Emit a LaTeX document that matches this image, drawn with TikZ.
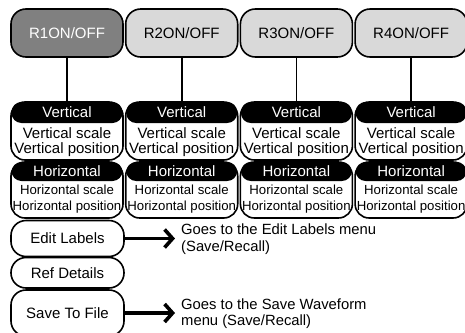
\documentclass[tikz,border=0pt]{standalone}
\usepackage{fontspec}
\setmainfont{Liberation Sans}
\usetikzlibrary{positioning}
\usetikzlibrary{arrows.meta}
\tikzset{
  onoff/.style={draw=black,line width=1.6pt,rounded corners=15pt,fill=black!15,minimum width=112pt,minimum height=48pt,inner sep=0pt,outer sep=0pt,font=\fontsize{15}{18}\selectfont},
  onoffsel/.style={onoff,fill=black!50,text=white},
  grpbox/.style={draw=black,line width=1.6pt,rounded corners=14pt,fill=white,minimum width=112pt,inner sep=0pt,outer sep=0pt},
  grphead/.style={fill=black,rounded corners=10pt,minimum width=111pt,inner sep=0pt,outer sep=0pt,text=white,font=\fontsize{15}{18}\selectfont},
  vtext/.style={inner sep=0pt,font=\fontsize{15}{18}\selectfont},
  htext/.style={inner sep=0pt,font=\fontsize{13.2}{16}\selectfont},
  btn/.style={draw=black,line width=1.6pt,rounded corners=15pt,fill=white,minimum width=113pt,inner sep=0pt,outer sep=0pt,font=\fontsize{15}{18}\selectfont},
  link/.style={draw=black,line width=1.6pt},
  goarrow/.style={draw=black,line width=3.6pt,-{Straight Barb[length=8pt,width=18pt]}},
  note/.style={align=left,inner sep=0pt,font=\fontsize{14.8}{16.5}\selectfont}
}
\begin{document}
\begin{tikzpicture}[x=1pt,y=-1pt]
\useasboundingbox (0,0) rectangle (465,332);

\node[onoffsel] (r1) at (67,33) {R1ON/OFF};
\node[onoff] (r2) at (181.7,33) {R2ON/OFF};
\node[onoff] (r3) at (296.4,33) {R3ON/OFF};
\node[onoff] (r4) at (411.1,33) {R4ON/OFF};

\node[grpbox,minimum height=58pt] (v1) at (67,131) {};
\node[grpbox,minimum height=58pt] (v2) at (181.7,131) {};
\node[grpbox,minimum height=58pt] (v3) at (296.4,131) {};
\node[grpbox,minimum height=58pt] (v4) at (411.1,131) {};
\node[grphead,minimum height=21pt,anchor=north] (v1h) at (v1.north) {Vertical};
\node[grphead,minimum height=21pt,anchor=north] (v2h) at (v2.north) {Vertical};
\node[grphead,minimum height=21pt,anchor=north] (v3h) at (v3.north) {Vertical};
\node[grphead,minimum height=21pt,anchor=north] (v4h) at (v4.north) {Vertical};
\node[vtext] (v1s) at (67,133) {Vertical scale};
\node[vtext] (v2s) at (181.7,133) {Vertical scale};
\node[vtext] (v3s) at (296.4,133) {Vertical scale};
\node[vtext] (v4s) at (411.1,133) {Vertical scale};
\node[vtext] (v1p) at (67,150) {Vertical position};
\node[vtext] (v2p) at (181.7,150) {Vertical position};
\node[vtext] (v3p) at (296.4,150) {Vertical position};
\node[vtext] (v4p) at (411.1,150) {Vertical position};

\node[grpbox,minimum height=56pt] (h1) at (67,190) {};
\node[grpbox,minimum height=56pt] (h2) at (181.7,190) {};
\node[grpbox,minimum height=56pt] (h3) at (296.4,190) {};
\node[grpbox,minimum height=56pt] (h4) at (411.1,190) {};
\node[grphead,minimum height=19pt,anchor=north] (h1h) at (h1.north) {Horizontal};
\node[grphead,minimum height=19pt,anchor=north] (h2h) at (h2.north) {Horizontal};
\node[grphead,minimum height=19pt,anchor=north] (h3h) at (h3.north) {Horizontal};
\node[grphead,minimum height=19pt,anchor=north] (h4h) at (h4.north) {Horizontal};
\node[htext] (h1s) at (67,190) {Horizontal scale};
\node[htext] (h2s) at (181.7,190) {Horizontal scale};
\node[htext] (h3s) at (296.4,190) {Horizontal scale};
\node[htext] (h4s) at (411.1,190) {Horizontal scale};
\node[htext] (h1p) at (67,207) {Horizontal position};
\node[htext] (h2p) at (181.7,207) {Horizontal position};
\node[htext] (h3p) at (296.4,207) {Horizontal position};
\node[htext] (h4p) at (411.1,207) {Horizontal position};

\draw[link] (r1) -- (v1);
\draw[link] (r2) -- (v2);
\draw[link] (r3) -- (v3);
\draw[link] (r4) -- (v4);

\node[btn,minimum height=36pt] (el) at (67.5,238.5) {Edit Labels};
\node[btn,minimum height=30.5pt] (rd) at (67.5,272.75) {Ref Details};
\node[btn,minimum height=46pt] (sf) at (67.5,313) {Save To File};

\coordinate (elt) at (175,238.5);
\coordinate (sft) at (175,313);
\draw[goarrow] (el) -- (elt);
\draw[goarrow] (sf) -- (sft);
\node[note,anchor=west] (eln) at (181,239) {Goes to the Edit Labels menu\\(Save/Recall)};
\node[note,anchor=west] (sfn) at (181,313.5) {Goes to the Save Waveform\\menu (Save/Recall)};

\end{tikzpicture}
\end{document}
